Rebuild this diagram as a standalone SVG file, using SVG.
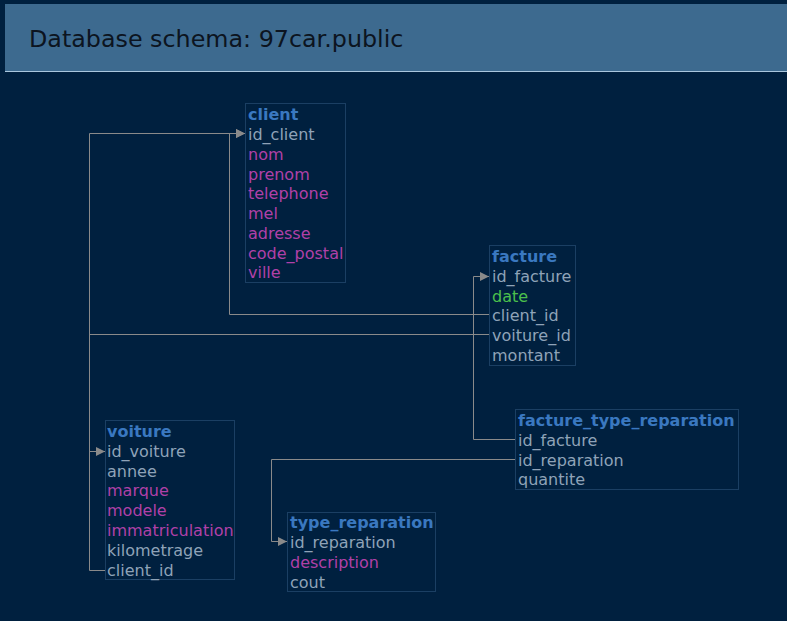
<svg xmlns="http://www.w3.org/2000/svg" width="787" height="621" viewBox="0 0 787 621">
<defs>
<style>
text{font-family:"DejaVu Sans",Verdana,sans-serif;font-size:16px;}
.t{font-weight:bold;fill:#3a78c0;}
.g{fill:#8fa3b8;}
.m{fill:#b040a8;}
.d{fill:#4cc04c;}
.box{fill:#00203f;stroke:#1b3f63;stroke-width:1;}
.c{fill:none;stroke:#8a8a8a;stroke-width:1;}
</style>
<marker id="ar" viewBox="0 0 10 10" refX="10" refY="5" markerWidth="9" markerHeight="9" markerUnits="userSpaceOnUse" orient="auto">
<path d="M0,0 L10,5 L0,10 z" fill="#8a8a8a"/>
</marker>
</defs>
<rect x="0" y="0" width="787" height="621" fill="#00203f"/>
<g id="header">
<rect x="5" y="4" width="782" height="67" fill="#3d6a8f"/>
<line x1="5" y1="71.5" x2="787" y2="71.5" stroke="#a9c6dd" stroke-width="1"/>
<text x="29" y="47" style="font-size:23.8px;fill:#0c1420">Database schema: 97car.public</text>
</g>
<g id="connectors">
<path class="c" d="M489,314.5 H229.5 V133.5 H245" marker-end="url(#ar)"/>
<path class="c" d="M105,570.5 H89.5 V133.5 H245" marker-end="url(#ar)"/>
<path class="c" d="M489,334.5 H89.5 V451.5 H105" marker-end="url(#ar)"/>
<path class="c" d="M515,439.5 H473.5 V276.5 H489" marker-end="url(#ar)"/>
<path class="c" d="M515,459.5 H271.5 V541.5 H287" marker-end="url(#ar)"/>
</g>
<g id="client">
<rect class="box" x="245.5" y="103.5" width="100" height="179"/>
<text class="t" x="248" y="120">client</text>
<text class="g" x="248" y="140">id_client</text>
<text class="m" x="248" y="160">nom</text>
<text class="m" x="248" y="180">prenom</text>
<text class="m" x="248" y="199">telephone</text>
<text class="m" x="248" y="219">mel</text>
<text class="m" x="248" y="239">adresse</text>
<text class="m" x="248" y="259">code_postal</text>
<text class="m" x="248" y="278">ville</text>
</g>
<g id="facture">
<rect class="box" x="489.5" y="245.5" width="86" height="120"/>
<text class="t" x="492" y="262">facture</text>
<text class="g" x="492" y="282">id_facture</text>
<text class="d" x="492" y="302">date</text>
<text class="g" x="492" y="321">client_id</text>
<text class="g" x="492" y="341">voiture_id</text>
<text class="g" x="492" y="361">montant</text>
</g>
<g id="facture_type_reparation">
<rect class="box" x="515.5" y="409.5" width="223" height="80"/>
<text class="t" x="518" y="426">facture_type_reparation</text>
<text class="g" x="518" y="446">id_facture</text>
<text class="g" x="518" y="466">id_reparation</text>
<text class="g" x="518" y="485">quantite</text>
</g>
<g id="voiture">
<rect class="box" x="105.5" y="420.5" width="129" height="159"/>
<text class="t" x="107" y="437">voiture</text>
<text class="g" x="107" y="457">id_voiture</text>
<text class="g" x="107" y="477">annee</text>
<text class="m" x="107" y="496">marque</text>
<text class="m" x="107" y="516">modele</text>
<text class="m" x="107" y="536">immatriculation</text>
<text class="g" x="107" y="556">kilometrage</text>
<text class="g" x="107" y="576">client_id</text>
</g>
<g id="type_reparation">
<rect class="box" x="287.5" y="512.5" width="148" height="79"/>
<text class="t" x="290" y="528">type_reparation</text>
<text class="g" x="290" y="548">id_reparation</text>
<text class="m" x="290" y="568">description</text>
<text class="g" x="290" y="588">cout</text>
</g>
</svg>
